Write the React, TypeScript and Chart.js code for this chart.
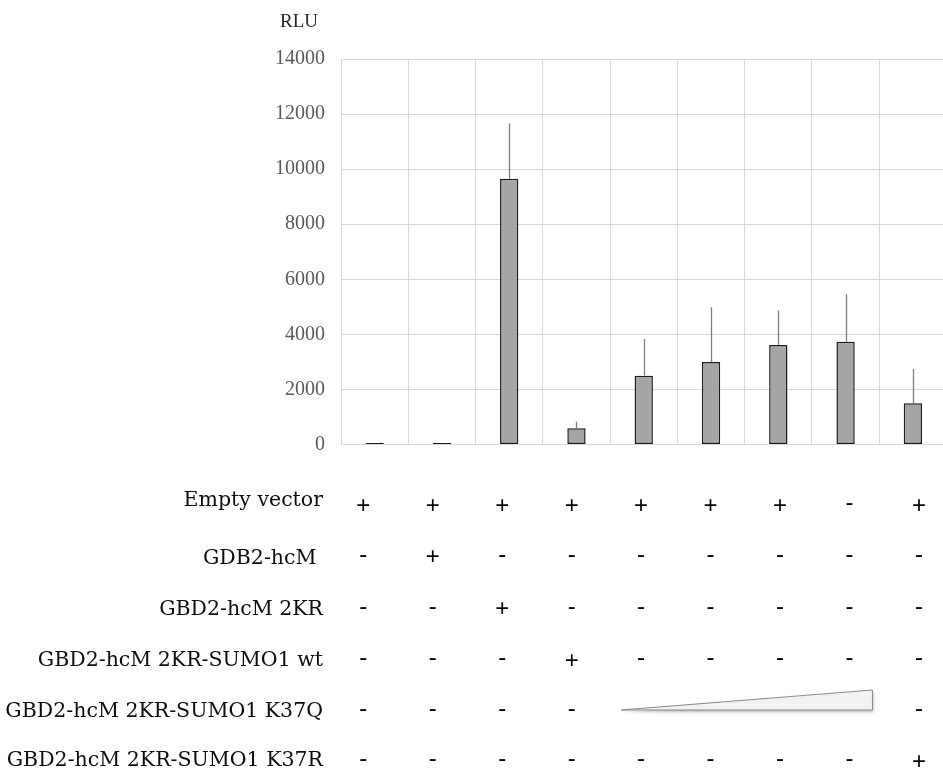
import React, { useEffect, useRef } from "react";
import { Chart, registerables } from "chart.js";

Chart.register(...registerables);

// ---- data ----
const categories = ["1", "2", "3", "4", "5", "6", "7", "8", "9"];
const rluMeans = [50, 50, 9650, 590, 2500, 3000, 3610, 3730, 1500];
const rluErrPlus = [0, 0, 2010, 240, 1330, 1980, 1260, 1730, 1240];
const yTicks = [0, 2000, 4000, 6000, 8000, 10000, 12000, 14000];
const yAxisTitle = "RLU";

const rowLabels = [
  "Empty vector",
  "GDB2-hcM ",
  "GBD2-hcM 2KR",
  "GBD2-hcM 2KR-SUMO1 wt",
  "GBD2-hcM 2KR-SUMO1 K37Q",
  "GBD2-hcM 2KR-SUMO1 K37R",
];
const rowEmptyVector = ["+", "+", "+", "+", "+", "+", "+", "-", "+"];
const rowGdb2 = ["-", "+", "-", "-", "-", "-", "-", "-", "-"];
const row2KR = ["-", "-", "+", "-", "-", "-", "-", "-", "-"];
const rowWt = ["-", "-", "-", "+", "-", "-", "-", "-", "-"];
const rowK37Q = ["-", "-", "-", "-", "", "", "", "", "-"]; // wedge over cols 5-8
const rowK37R = ["-", "-", "-", "-", "-", "-", "-", "-", "+"];
const signRows = [rowEmptyVector, rowGdb2, row2KR, rowWt, rowK37Q, rowK37R];
const wedgeFrom = 4;
const wedgeTo = 7;

// ---- layout (styles) ----
const labelRight = 323;
const labelCenters = [498.5, 556.5, 607.5, 658.5, 709.5, 758.5];
const signCenters = [504, 555.5, 607.5, 659, 709.5, 760];
const colStart = 363.3;
const colStep = 69.45;

const errorBarPlugin = {
  id: "errorBars",
  afterDatasetsDraw(chart: any) {
    const ctx = chart.ctx;
    const meta = chart.getDatasetMeta(0);
    const y = chart.scales.y;
    ctx.save();
    ctx.strokeStyle = "#7f7f7f";
    ctx.lineWidth = 1.3;
    meta.data.forEach((bar: any, i: number) => {
      if (!rluErrPlus[i]) return;
      const x = Math.round(bar.x) + 0.5;
      const y0 = y.getPixelForValue(rluMeans[i]);
      const y1 = y.getPixelForValue(rluMeans[i] + rluErrPlus[i]);
      ctx.beginPath();
      ctx.moveTo(x, y0);
      ctx.lineTo(x, y1);
      ctx.stroke();
    });
    ctx.restore();
  },
};

const tablePlugin = {
  id: "conditionTable",
  afterDraw(chart: any) {
    const ctx = chart.ctx;
    ctx.save();
    // axis title
    ctx.fillStyle = "#262626";
    ctx.font = "19px 'Liberation Serif'";
    ctx.textAlign = "left";
    ctx.textBaseline = "alphabetic";
    ctx.fillText(yAxisTitle, 280, 26.5);

    // row labels
    ctx.fillStyle = "#0d0d0d";
    ctx.font = "20.5px 'DejaVu Serif'";
    ctx.textAlign = "right";
    rowLabels.forEach((lab, r) => {
      ctx.fillText(lab, labelRight, labelCenters[r] + 7.5);
    });

    // signs
    const fs = 24;
    ctx.font = `${fs}px 'Liberation Sans'`;
    ctx.textAlign = "center";
    ctx.fillStyle = "#000";
    signRows.forEach((row, r) => {
      row.forEach((s, c) => {
        if (!s) return;
        const x = colStart + c * colStep;
        const off = s === "+" ? 0.355 * fs : 0.27 * fs;
        ctx.fillText(s, x, signCenters[r] + off);
      });
    });

    // wedge for K37Q row
    const wy = signCenters[4];
    const x0 = colStart + wedgeFrom * colStep - 20;
    const x1 = colStart + wedgeTo * colStep + 23;
    ctx.beginPath();
    ctx.moveTo(x0, wy + 0.5);
    ctx.lineTo(x1, wy - 19.5);
    ctx.lineTo(x1, wy + 0.5);
    ctx.closePath();
    ctx.shadowColor = "rgba(0,0,0,0.28)";
    ctx.shadowBlur = 3;
    ctx.shadowOffsetX = 1;
    ctx.shadowOffsetY = 2;
    ctx.fillStyle = "#f2f2f2";
    ctx.fill();
    ctx.shadowColor = "transparent";
    ctx.strokeStyle = "#8a8a8a";
    ctx.lineWidth = 1;
    ctx.stroke();
    ctx.restore();
  },
};

export default function App() {
  const ref = useRef<HTMLCanvasElement>(null);

  useEffect(() => {
    if (!ref.current) return;
    const chart = new Chart(ref.current, {
      type: "bar",
      data: {
        labels: categories,
        datasets: [
          {
            data: rluMeans,
            backgroundColor: "#a5a5a5",
            borderColor: "#1a1a1a",
            borderWidth: 1.5,
            borderSkipped: false,
            categoryPercentage: 1,
            barPercentage: 0.272,
          },
        ],
      },
      options: {
        responsive: false,
        animation: false,
        devicePixelRatio: 1,
        layout: { padding: { left: 0, top: 59, right: 3.5, bottom: 326.5 } },
        plugins: {
          legend: { display: false },
          tooltip: { enabled: false },
        },
        scales: {
          x: {
            offset: true,
            grid: { color: "#d9d9d9", lineWidth: 1, offset: true, drawTicks: false },
            border: { display: false },
            ticks: { display: false },
            afterFit: (s: any) => {
              s.height = 0;
            },
          },
          y: {
            min: 0,
            max: 14000,
            afterBuildTicks: (s: any) => {
              s.ticks = yTicks.map((v) => ({ value: v }));
            },
            grid: { color: "#d9d9d9", lineWidth: 1, drawTicks: false },
            border: { display: true, color: "#d9d9d9" },
            ticks: {
              padding: 16,
              color: "#595959",
              font: { family: "'Liberation Serif'", size: 20 },
              callback: (v: any) => String(v),
            },
            afterFit: (s: any) => {
              s.width = 341;
            },
          },
        },
      },
      plugins: [errorBarPlugin, tablePlugin],
    });
    return () => chart.destroy();
  }, []);

  return (
    <div
      style={{
        position: "fixed",
        left: 0,
        top: 0,
        width: 943,
        height: 771,
        overflow: "hidden",
        background: "#fff",
      }}
    >
      <canvas ref={ref} width={950} height={771} style={{ width: 950, height: 771, display: "block" }} />
    </div>
  );
}
